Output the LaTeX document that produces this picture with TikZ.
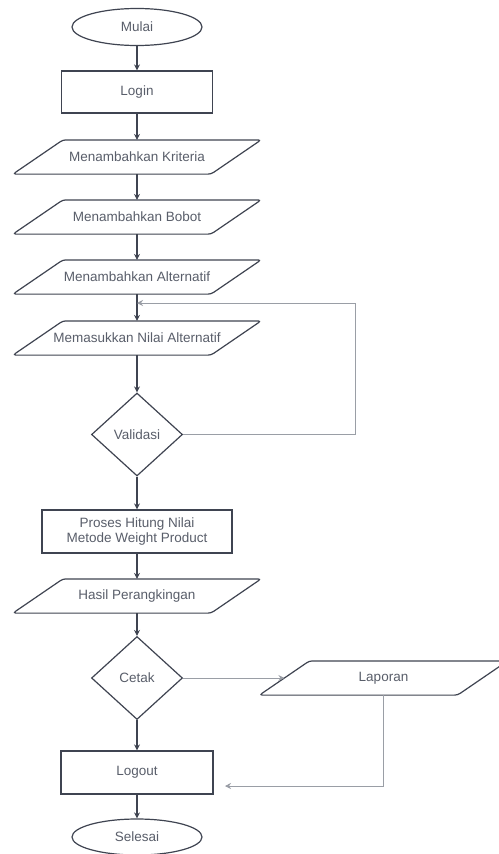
\documentclass[tikz,border=0pt]{standalone}
\usepackage{fontspec}
\setmainfont{Liberation Sans}
\usetikzlibrary{shapes.geometric,arrows.meta}
\definecolor{lineC}{HTML}{3F4451}
\definecolor{textC}{HTML}{595E6A}
\definecolor{softC}{HTML}{9A9EA6}
\tikzset{
  base/.style={draw=lineC, line width=1.2pt, text=textC, font=\fontsize{13.5}{15}\selectfont, inner sep=0pt, align=center},
  term/.style={base, ellipse, minimum width=130pt, minimum height=37pt},
  proc/.style={base, rectangle, minimum height=42pt},
  io/.style={base, draw=none, rectangle, minimum width=197pt, minimum height=33pt},
  ioline/.style={draw=lineC, line width=1.2pt, rounded corners=3pt},
  dec/.style={base, diamond, minimum width=91pt, minimum height=83pt},
  arr/.style={draw=lineC, line width=1.2pt, -{Stealth[length=6pt,width=6pt]}},
  soft/.style={draw=softC, line width=1pt, -{Stealth[length=6pt,width=6pt,fill=lineC]}},
}
\newcommand\ioframe[1]{\draw[ioline] ([xshift=25pt]#1.north west) -- ([xshift=25pt]#1.north east)
      -- ([xshift=-25pt]#1.south east) -- ([xshift=-25pt]#1.south west) -- cycle;}
\begin{document}
\begin{tikzpicture}[x=1pt,y=-1pt]
\useasboundingbox (0,0) rectangle (498,854);
\fill[white] (0,0) rectangle (498,854);
\node[term] (mulai) at (137,27) {Mulai};
\node[proc, minimum width=151pt] (login) at (137,92) {Login};
\node[io] (krit) at (137,157) {Menambahkan Kriteria};
\node[io] (bobot) at (137,217) {Menambahkan Bobot};
\node[io] (alt) at (137,277) {Menambahkan Alternatif};
\node[io] (nilai) at (137,338) {Memasukkan Nilai Alternatif};
\node[dec] (valid) at (137,434.5) {Validasi};
\node[proc, minimum width=190pt, minimum height=43pt] (proses) at (137,531.5) {Proses Hitung Nilai\\Metode Weight Product};
\node[io] (hasil) at (137,596) {Hasil Perangkingan};
\node[dec] (cetak) at (137,678) {Cetak};
\node[io] (lap) at (383.5,678) {Laporan};
\node[proc, minimum width=152pt, minimum height=43pt] (logout) at (137,772.5) {Logout};
\node[term, minimum height=36pt] (selesai) at (137,837) {Selesai};
\ioframe{krit}
\ioframe{bobot}
\ioframe{alt}
\ioframe{nilai}
\ioframe{hasil}
\ioframe{lap}
\coordinate (fbr) at (355,434.5);
\coordinate (fbj) at (137,303);
\coordinate (lpd) at (383.5,786);
\coordinate (lpe) at (225,786);
\draw[arr] (mulai) -- (login);
\draw[arr] (login) -- (krit.north);
\draw[arr] (krit.south) -- (bobot.north);
\draw[arr] (bobot.south) -- (alt.north);
\draw[arr] (alt.south) -- (nilai.north);
\draw[arr] (nilai.south) -- (valid);
\draw[arr] (valid) -- (proses);
\draw[arr] (proses) -- (hasil.north);
\draw[arr] (hasil.south) -- (cetak);
\draw[arr] (cetak) -- (logout);
\draw[arr] (logout) -- (selesai);
\draw[soft] (valid.east) -- (fbr) |- (fbj);
\draw[soft] (cetak.east) -- (lap.west);
\draw[soft] (lap.south) -- (lpd) -- (lpe);
\end{tikzpicture}
\end{document}
